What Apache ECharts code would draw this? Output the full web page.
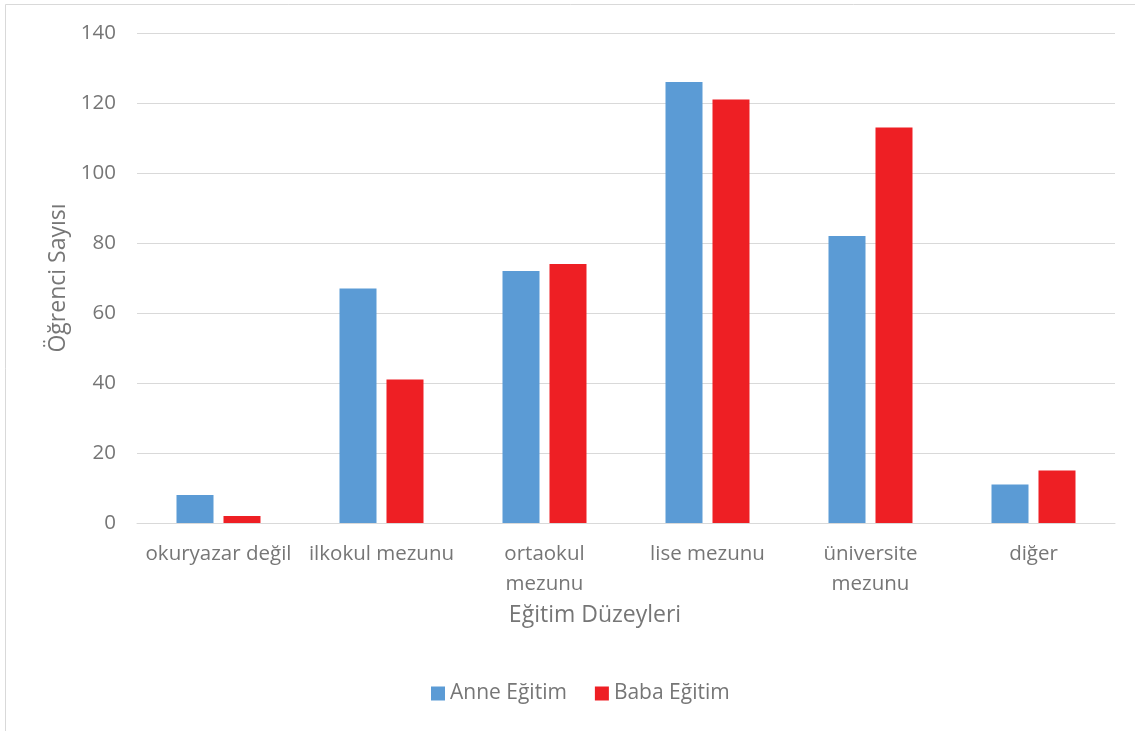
<!DOCTYPE html>
<html>
<head>
<meta charset="utf-8">
<script src="https://cdn.jsdelivr.net/npm/echarts@6/dist/echarts.min.js"></script>
<style>
  html, body { margin: 0; padding: 0; background: #fff; }
  #chart { width: 1135px; height: 731px; }
</style>
</head>
<body>
<div id="chart"></div>
<script>
// Education levels of students' parents
const categories = ['okuryazar değil', 'ilkokul mezunu', 'ortaokul\nmezunu', 'lise mezunu', 'üniversite\nmezunu', 'diğer'];
const anneEgitim = [8, 67, 72, 126, 82, 11];
const babaEgitim = [2, 41, 74, 121, 113, 15];
const seriesNames = ['Anne Eğitim', 'Baba Eğitim'];
const yTicks = { min: 0, max: 140, interval: 20 };

const FONT = '"Open Sans", sans-serif';
const TEXT = '#767676';

const chart = echarts.init(document.getElementById('chart'));
chart.setOption({
  backgroundColor: '#ffffff',
  animation: false,
  textStyle: { fontFamily: FONT },
  graphic: [{
    type: 'rect',
    shape: { x: 5.5, y: 4.5, width: 1200, height: 800 },
    style: { fill: 'none', stroke: '#d9d9d9', lineWidth: 1 },
    silent: true
  }],
  grid: { left: 137, right: 20, top: 33, bottom: 208 },
  legend: {
    data: seriesNames,
    bottom: 27,
    left: 431,
    padding: 0,
    itemWidth: 14,
    itemHeight: 14,
    itemGap: 28,
    icon: 'rect',
    textStyle: { color: TEXT, fontSize: 21, fontFamily: FONT }
  },
  xAxis: {
    type: 'category',
    data: categories,
    name: 'Eğitim Düzeyleri',
    nameLocation: 'middle',
    nameGap: 76,
    nameTextStyle: { color: TEXT, fontSize: 23, fontFamily: FONT, padding: [0, 62, 0, 0] },
    axisLine: { lineStyle: { color: '#d9d9d9', width: 1 } },
    axisTick: { show: false },
    axisLabel: { interval: 0, color: TEXT, fontSize: 20.5, margin: 16, lineHeight: 30, fontFamily: FONT }
  },
  yAxis: {
    type: 'value',
    min: yTicks.min,
    max: yTicks.max,
    interval: yTicks.interval,
    name: 'Öğrenci Sayısı',
    nameLocation: 'middle',
    nameGap: 67,
    nameRotate: 90,
    nameTextStyle: { color: TEXT, fontSize: 23, fontFamily: FONT },
    axisLine: { show: false },
    axisTick: { show: false },
    axisLabel: { color: TEXT, fontSize: 20.5, margin: 21, fontFamily: FONT },
    splitLine: { lineStyle: { color: '#d9d9d9', width: 1 } }
  },
  series: [
    {
      name: seriesNames[0], type: 'bar', data: anneEgitim,
      barWidth: '22.7%', barGap: '27%',
      itemStyle: { color: '#5b9bd5' }
    },
    {
      name: seriesNames[1], type: 'bar', data: babaEgitim,
      barWidth: '22.7%',
      itemStyle: { color: '#ee1f24' }
    }
  ]
});
</script>
</body>
</html>
